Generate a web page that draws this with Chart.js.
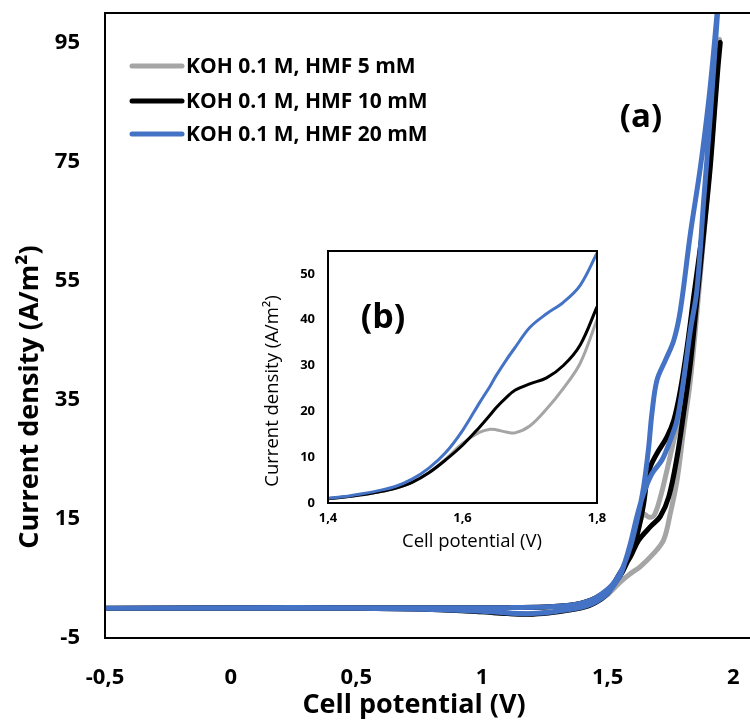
<!DOCTYPE html>
<html>
<head>
<meta charset="utf-8">
<script src="https://cdn.jsdelivr.net/npm/chart.js@4.4.1/dist/chart.umd.min.js"></script>
<style>
  html, body { margin: 0; padding: 0; background: #fff; }
  #wrap { position: relative; width: 750px; height: 724px; overflow: hidden; background: #fff; }
  #main { position: absolute; left: 0; top: 0; }
  #inset { position: absolute; left: 250px; top: 240px; }
</style>
</head>
<body>
<div id="wrap">
  <canvas id="main" width="900" height="724" style="width:900px;height:724px"></canvas>
  <canvas id="inset" width="360" height="323" style="width:360px;height:323px"></canvas>
</div>
<script>
// ---------- DATA ----------
const seriesNames = ['KOH 0.1 M, HMF 5 mM', 'KOH 0.1 M, HMF 10 mM', 'KOH 0.1 M, HMF 20 mM'];
const seriesColors = ['#A5A5A5', '#000000', '#4472C4'];

const xTitle = 'Cell potential (V)';
const yTitle = 'Current density (A/m\u00B2)';
const xTicks = [-0.5, 0, 0.5, 1, 1.5, 2];
const yTicks = [-5, 15, 35, 55, 75, 95];

// HMF 5 mM: forward then backward scan
const potential5 = [-0.5, 0, 0.5, 0.9, 1.1, 1.25, 1.35, 1.4, 1.45, 1.5, 1.53, 1.56, 1.59, 1.62, 1.643, 1.665, 1.685, 1.71, 1.736, 1.763, 1.789, 1.816, 1.849, 1.88, 1.905, 1.925, 1.945,
                    1.94, 1.925, 1.9, 1.875, 1.855, 1.829, 1.802, 1.776, 1.749, 1.723, 1.683, 1.63, 1.59, 1.55, 1.5, 1.45, 1.4, 1.3, 1.2, 1.1, 1.0, 0.8, 0.5, 0, -0.5];
const current5 =   [0, 0.1, 0.1, 0.1, 0.1, 0.2, 0.5, 0.9, 1.7, 3.0, 4.3, 6.2, 9.2, 13.2, 15.8, 15.3, 15.6, 18.7, 23.2, 28.2, 32.7, 41.1, 52.3, 64, 75, 85, 95.5,
                    94, 84, 71, 59, 49.5, 38.3, 29.9, 21.5, 15.9, 11.5, 9.2, 7.0, 5.8, 4.4, 2.3, 0.9, 0.1, -0.6, -1.0, -0.9, -0.6, -0.2, 0, 0, 0];

// HMF 10 mM
const potential10 = [-0.5, 0, 0.5, 0.9, 1.1, 1.25, 1.35, 1.4, 1.45, 1.5, 1.53, 1.56, 1.59, 1.62, 1.643, 1.656, 1.67, 1.696, 1.736, 1.763, 1.789, 1.816, 1.842, 1.882, 1.908, 1.928, 1.948,
                     1.945, 1.928, 1.908, 1.882, 1.855, 1.829, 1.802, 1.776, 1.743, 1.709, 1.67, 1.623, 1.59, 1.55, 1.52, 1.5, 1.45, 1.4, 1.3, 1.2, 1.1, 1.0, 0.8, 0.5, 0, -0.5];
const current10 =   [0, 0.1, 0.1, 0.1, 0.1, 0.2, 0.5, 0.9, 1.7, 3.0, 4.3, 6.2, 9.0, 12.8, 17.5, 21.5, 23.8, 26, 28.8, 31.6, 36.6, 43.9, 52.3, 65, 76, 86, 95,
                     94, 85, 74, 62.9, 51.7, 41.1, 32.7, 25.4, 18.7, 15.4, 13.7, 11.4, 8.6, 6.0, 3.8, 2.5, 0.9, 0.1, -0.6, -1.0, -0.9, -0.6, -0.2, 0, 0, 0];

// HMF 20 mM
const potential20 = [-0.5, 0, 0.5, 0.9, 1.1, 1.25, 1.35, 1.4, 1.45, 1.5, 1.53, 1.56, 1.59, 1.617, 1.643, 1.663, 1.676, 1.696, 1.729, 1.763, 1.789, 1.829, 1.869, 1.902, 1.922, 1.948,
                     1.935, 1.908, 1.882, 1.855, 1.829, 1.802, 1.776, 1.749, 1.716, 1.676, 1.643, 1.617, 1.59, 1.565, 1.55, 1.5, 1.45, 1.4, 1.3, 1.2, 1.1, 1.0, 0.8, 0.5, 0, -0.5];
const current20 =   [0, 0.1, 0.1, 0.1, 0.1, 0.2, 0.5, 0.9, 1.7, 3.2, 4.6, 6.8, 10.3, 14.8, 20.4, 27, 32.7, 38.3, 41.6, 45, 50, 62.9, 74.1, 85.3, 93.7, 106,
                     98.7, 82.5, 68.5, 53.4, 46.7, 38.3, 31.6, 28.2, 24.9, 22.6, 19.3, 15.5, 10.8, 7.2, 5.5, 2.5, 1.0, 0.2, -0.5, -0.9, -0.8, -0.5, -0.2, 0, 0, 0];

// Inset (b): forward scan 1.4 - 1.8 V
const insetPotential = [1.4, 1.425, 1.45, 1.475, 1.5, 1.525, 1.55, 1.575, 1.6, 1.625, 1.641, 1.65, 1.665, 1.678, 1.7, 1.725, 1.75, 1.775, 1.8];
const inset5  = [1.0, 1.3, 1.8, 2.4, 3.2, 4.5, 6.6, 9.6, 13.0, 15.4, 16.1, 16.0, 15.5, 15.3, 16.8, 20.5, 25.0, 30.5, 40.0];
const inset10 = [0.9, 1.3, 1.8, 2.4, 3.2, 4.5, 6.6, 9.4, 12.6, 16.5, 19.2, 20.8, 23.0, 24.6, 26.0, 27.3, 30.0, 34.5, 42.8];
const inset20 = [1.0, 1.4, 2.0, 2.7, 3.6, 5.2, 7.6, 11.0, 15.8, 21.8, 25.5, 27.8, 31.2, 33.9, 38.3, 41.3, 43.8, 47.5, 54.5];
const insetXTicks = [1.4, 1.6, 1.8];
const insetYTicks = [0, 10, 20, 30, 40, 50];
const insetXTitle = 'Cell potential (V)';
const insetYTitle = 'Current density (A/m\u00B2)';

// ---------- HELPERS ----------
const fmt = v => String(Math.round(v * 100) / 100).replace('.', ',');
const pts = (xs, ys) => xs.map((x, i) => ({ x: x, y: ys[i] }));
const FONT = '"Open Sans", "DejaVu Sans", sans-serif';
const noPadX = s => { s.paddingLeft = 0; s.paddingRight = 0; };
const noPadY = s => { s.paddingTop = 0; s.paddingBottom = 0; };

// ---------- MAIN CHART ----------
const mainDecor = {
  id: 'mainDecor',
  afterDraw(chart) {
    const c = chart.ctx, a = chart.chartArea;
    c.save();
    c.strokeStyle = '#000';
    c.lineWidth = 2;
    c.strokeRect(a.left, a.top, a.right - a.left, a.bottom - a.top);
    c.fillStyle = '#000';
    c.textAlign = 'center';
    c.textBaseline = 'middle';
    c.font = 'bold 27px ' + FONT;
    c.fillText(xTitle, 414, 705);
    c.save();
    c.translate(30, 397);
    c.rotate(-Math.PI / 2);
    c.fillText(yTitle, 0, 0);
    c.restore();
    c.font = 'bold 33px ' + FONT;
    c.fillText('(a)', 641, 118);
    // legend
    const rows = [66, 101, 134];
    c.textAlign = 'left';
    c.font = 'bold 21px ' + FONT;
    seriesNames.forEach((n, i) => {
      c.strokeStyle = seriesColors[i];
      c.lineWidth = 5;
      c.lineCap = 'round';
      c.beginPath();
      c.moveTo(132, rows[i]);
      c.lineTo(182, rows[i]);
      c.stroke();
      c.fillStyle = '#000';
      c.fillText(n, 186, rows[i] + 1);
    });
    c.restore();
  }
};

const mkSet = (xs, ys, i, w, order) => ({
  label: seriesNames[i],
  data: pts(xs, ys),
  showLine: true,
  borderColor: seriesColors[i],
  backgroundColor: seriesColors[i],
  borderWidth: w,
  pointRadius: 0,
  tension: 0.35,
  fill: false,
  order: order,
  borderCapStyle: 'round',
  borderJoinStyle: 'round'
});

new Chart(document.getElementById('main'), {
  type: 'scatter',
  data: {
    datasets: [
      mkSet(potential5, current5, 0, 5, 3),
      mkSet(potential10, current10, 1, 5, 2),
      mkSet(potential20, current20, 2, 5, 1)
    ]
  },
  options: {
    responsive: false,
    animation: false,
    layout: { padding: { left: 0, top: 13, right: 41, bottom: 0 } },
    plugins: { legend: { display: false }, tooltip: { enabled: false } },
    scales: {
      x: {
        type: 'linear', min: -0.5, max: 2.5,
        afterBuildTicks: s => { s.ticks = xTicks.map(v => ({ value: v })); },
        afterFit: s => { s.height = 86; noPadX(s); },
        grid: { display: false, drawTicks: false },
        border: { display: false },
        ticks: { padding: 27, color: '#000', font: { family: FONT, size: 22, weight: 'bold' }, callback: v => fmt(v), maxRotation: 0, autoSkip: false }
      },
      y: {
        type: 'linear', min: -5, max: 100,
        afterBuildTicks: s => { s.ticks = yTicks.map(v => ({ value: v })); },
        afterFit: s => { s.width = 105; noPadY(s); },
        grid: { display: false, drawTicks: false },
        border: { display: false },
        ticks: { padding: 25, color: '#000', font: { family: FONT, size: 22, weight: 'bold' }, callback: v => fmt(v), autoSkip: false }
      }
    }
  },
  plugins: [mainDecor]
});

// ---------- INSET CHART ----------
const insetDecor = {
  id: 'insetDecor',
  beforeDraw(chart) {
    const c = chart.ctx, a = chart.chartArea;
    c.save();
    c.fillStyle = '#fff';
    c.fillRect(a.left, a.top, a.right - a.left, a.bottom - a.top);
    c.restore();
  },
  afterDraw(chart) {
    const c = chart.ctx, a = chart.chartArea;
    c.save();
    c.strokeStyle = '#000';
    c.lineWidth = 2;
    c.strokeRect(a.left, a.top, a.right - a.left, a.bottom - a.top);
    c.fillStyle = '#000';
    c.textAlign = 'center';
    c.textBaseline = 'middle';
    c.font = '18.5px ' + FONT;
    c.fillText(insetXTitle, 222, 302);
    c.save();
    c.translate(23, 151);
    c.rotate(-Math.PI / 2);
    c.fillText(insetYTitle, 0, 0);
    c.restore();
    c.font = 'bold 34px ' + FONT;
    c.fillText('(b)', 133, 78);
    c.restore();
  }
};

new Chart(document.getElementById('inset'), {
  type: 'scatter',
  data: {
    datasets: [
      mkSet(insetPotential, inset5, 0, 3, 3),
      mkSet(insetPotential, inset10, 1, 3, 2),
      mkSet(insetPotential, inset20, 2, 3, 1)
    ]
  },
  options: {
    responsive: false,
    animation: false,
    layout: { padding: { left: 0, top: 11, right: 13, bottom: 0 } },
    plugins: { legend: { display: false }, tooltip: { enabled: false } },
    scales: {
      x: {
        type: 'linear', min: 1.4, max: 1.8,
        afterBuildTicks: s => { s.ticks = insetXTicks.map(v => ({ value: v })); },
        afterFit: s => { s.height = 60; noPadX(s); },
        grid: { display: false, drawTicks: false },
        border: { display: false },
        ticks: { padding: 7, color: '#000', font: { family: FONT, size: 13, weight: 'bold' }, callback: v => fmt(v), maxRotation: 0, autoSkip: false }
      },
      y: {
        type: 'linear', min: 0, max: 55,
        afterBuildTicks: s => { s.ticks = insetYTicks.map(v => ({ value: v })); },
        afterFit: s => { s.width = 78; noPadY(s); },
        grid: { display: false, drawTicks: false },
        border: { display: false },
        ticks: { padding: 13, color: '#000', font: { family: FONT, size: 13, weight: 'bold' }, callback: v => fmt(v), autoSkip: false }
      }
    }
  },
  plugins: [insetDecor]
});
</script>
</body>
</html>
